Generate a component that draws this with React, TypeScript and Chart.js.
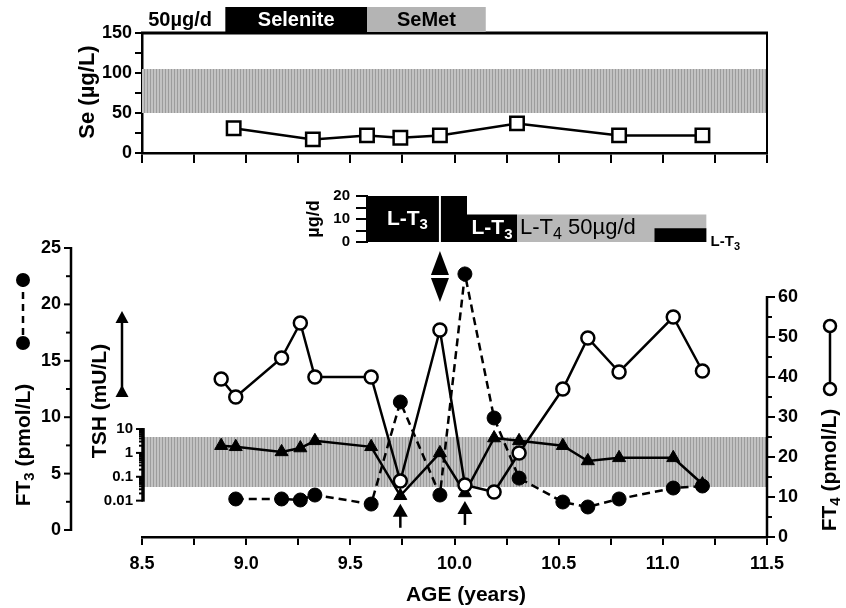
import React, { useEffect, useRef } from 'react';
import { Chart, registerables } from 'chart.js';

Chart.register(...registerables);

const FONT = '"Liberation Sans", Arial, Helvetica, sans-serif';
Chart.defaults.font.family = FONT;
Chart.defaults.color = '#000';

// ---------------- shared age axis ----------------
const ageMin = 8.5;
const ageMax = 11.5;
const ageStep = 0.25;

// ---------------- selenium panel ----------------
const seAges = [8.94, 9.32, 9.58, 9.74, 9.93, 10.3, 10.79, 11.19];
const seValues = [31, 17, 22, 19, 22, 37, 22, 22];
const seNormal = [50, 105];
const seSuppNames = ['Selenite', 'SeMet'];
const seSuppStart = [8.9, 9.58];
const seSuppEnd = [9.58, 10.15];
const seDoseLabel = '50µg/d';
const seDoseLabelAge = 8.53;

// ---------------- thyroid hormone treatment ----------------
const lt3Ages = [9.58, 10.06, 10.3, 10.96, 11.21];
const lt3Doses = [20, 12, 0, 6, 6];
const lt4Ages = [10.3, 11.21];
const lt4Doses = [12, 12];
const lt3StopAge = 9.93;

// ---------------- laboratory values ----------------
const visitAges = [8.88, 8.95, 9.17, 9.26, 9.33, 9.6, 9.74, 9.93, 10.05, 10.19, 10.31, 10.52, 10.64, 10.79, 11.05, 11.19];
const ft4Values = [39.5, 35, 44.75, 53.5, 40, 40, 14, 51.75, 13, 11.25, 21, 37, 49.75, 41.25, 55, 41.5];
const tshValues = [2.0, 1.8, 1.1, 1.6, 3.2, 1.8, 0.016, 1.0, 0.021, 4.2, 3.2, 2.0, 0.46, 0.62, 0.62, 0.05];
const ft3Ages = [8.95, 9.17, 9.26, 9.33, 9.6, 9.74, 9.93, 10.05, 10.19, 10.31, 10.52, 10.64, 10.79, 11.05, 11.19];
const ft3Values = [2.75, 2.75, 2.66, 3.1, 2.3, 11.35, 3.1, 22.7, 9.93, 4.6, 2.48, 2.04, 2.75, 3.72, 3.9];
const ft4Normal = [12.5, 25];
const tshUndetectableAges = [9.74, 10.05];
const tshUndetectableValues = [0.016, 0.021];

const ft3Ticks = [0, 2.5, 5, 7.5, 10, 12.5, 15, 17.5, 20, 22.5, 25];
const ft4Ticks = [0, 5, 10, 15, 20, 25, 30, 35, 40, 45, 50, 55, 60];
const tshMajor = [0.01, 0.1, 1, 10];
const tshMajorLabels = ['0.01', '0.1', '1', '10'];

// ---------------- layout ----------------
const W = 846;
const H = 608;
const PLOT_L = 142;
const PLOT_R = 767;
const SE_TOP = 33;
const SE_BOTTOM = 153;
const DOSE_TOP = 196;
const DOSE_BOTTOM = 242;
const MAIN_TOP = 248;
const MAIN_BOTTOM = 537;
const LW = 2.5;

const mk = (xs: number[], ys: number[]) => xs.map((x, i) => ({ x, y: ys[i] }));
const bold = (s: number) => `bold ${s}px ${FONT}`;

type Seg = { t: string; sub?: boolean };
function rich(ctx: CanvasRenderingContext2D, segs: Seg[], x: number, y: number, size: number, weight: string, color: string, align: 'left' | 'center', rot = 0) {
  ctx.save();
  ctx.translate(x, y);
  if (rot) ctx.rotate(rot);
  const mf = `${weight} ${size}px ${FONT}`;
  const sf = `${weight} ${Math.round(size * 0.72)}px ${FONT}`;
  let total = 0;
  const ws = segs.map((s) => {
    ctx.font = s.sub ? sf : mf;
    const w = ctx.measureText(s.t).width;
    total += w;
    return w;
  });
  let cx = align === 'center' ? -total / 2 : 0;
  ctx.fillStyle = color;
  ctx.textBaseline = 'middle';
  ctx.textAlign = 'left';
  segs.forEach((s, i) => {
    ctx.font = s.sub ? sf : mf;
    ctx.fillText(s.t, cx, s.sub ? size * 0.3 : 0);
    cx += ws[i];
  });
  ctx.restore();
}

function bandFill(ctx: CanvasRenderingContext2D) {
  const c = document.createElement('canvas');
  c.width = 3;
  c.height = 1;
  const g = c.getContext('2d')!;
  g.fillStyle = '#c2c2c2';
  g.fillRect(0, 0, 3, 1);
  g.fillStyle = '#9c9c9c';
  g.fillRect(0, 0, 1, 1);
  return ctx.createPattern(c, 'repeat') || '#b8b8b8';
}

function vAxis(ctx: CanvasRenderingContext2D, scale: any, x: number, values: number[], isMajor: (v: number) => boolean, label: (v: number) => string, side: number, majorLen: number, minorLen: number, lw: number, fs: number) {
  const ys = values.map((v) => scale.getPixelForValue(v));
  ctx.save();
  ctx.strokeStyle = '#000';
  ctx.lineWidth = lw;
  ctx.beginPath();
  ctx.moveTo(x, Math.min(...ys) - 1);
  ctx.lineTo(x, Math.max(...ys) + 1);
  ctx.stroke();
  ctx.lineWidth = 2;
  ctx.font = bold(fs);
  ctx.fillStyle = '#000';
  ctx.textBaseline = 'middle';
  ctx.textAlign = side < 0 ? 'right' : 'left';
  values.forEach((v, i) => {
    const len = isMajor(v) ? majorLen : minorLen;
    ctx.beginPath();
    ctx.moveTo(x, ys[i]);
    ctx.lineTo(x + side * len, ys[i]);
    ctx.stroke();
    const t = label(v);
    if (t) ctx.fillText(t, x + side * (majorLen + 3), ys[i]);
  });
  ctx.restore();
}

const ageTickCb = (v: any) => {
  const n = Number(v);
  return Math.abs(n * 2 - Math.round(n * 2)) < 1e-6 ? n.toFixed(1) : '';
};

function makeSe(canvas: HTMLCanvasElement) {
  const plugin = {
    id: 'sePanel',
    beforeDatasetsDraw(chart: any) {
      const { ctx, chartArea, scales } = chart;
      const y0 = scales.y.getPixelForValue(seNormal[0]);
      const y1 = scales.y.getPixelForValue(seNormal[1]);
      ctx.save();
      ctx.fillStyle = bandFill(ctx);
      ctx.fillRect(chartArea.left, y1, chartArea.right - chartArea.left, y0 - y1);
      ctx.restore();
    },
    afterDraw(chart: any) {
      const { ctx, chartArea, scales } = chart;
      const xs = scales.x;
      ctx.save();
      ctx.strokeStyle = '#000';
      ctx.lineWidth = 3;
      ctx.beginPath();
      ctx.moveTo(chartArea.left - 1, chartArea.top);
      ctx.lineTo(chartArea.right + 1, chartArea.top);
      ctx.stroke();
      ctx.lineWidth = 2;
      ctx.beginPath();
      ctx.moveTo(chartArea.right, chartArea.top);
      ctx.lineTo(chartArea.right, chartArea.bottom);
      ctx.stroke();
      // supplementation header
      const boxTop = 7;
      const boxBottom = chartArea.top - 1;
      seSuppNames.forEach((n, i) => {
        const a = xs.getPixelForValue(seSuppStart[i]);
        const b = xs.getPixelForValue(seSuppEnd[i]);
        ctx.fillStyle = i === 0 ? '#000' : '#b4b4b4';
        ctx.fillRect(a, boxTop, b - a, boxBottom - boxTop);
        rich(ctx, [{ t: n }], (a + b) / 2, (boxTop + boxBottom) / 2 + 1, 20, 'bold', i === 0 ? '#fff' : '#000', 'center');
      });
      rich(ctx, [{ t: seDoseLabel }], xs.getPixelForValue(seDoseLabelAge), (boxTop + boxBottom) / 2 + 1, 20, 'bold', '#000', 'left');
      // axis title
      rich(ctx, [{ t: 'Se (µg/L)' }], 88, 92, 22, 'bold', '#000', 'center', -Math.PI / 2);
      ctx.restore();
    },
  };
  return new Chart(canvas, {
    type: 'line',
    data: {
      datasets: [
        {
          data: mk(seAges, seValues),
          borderColor: '#000',
          borderWidth: LW,
          pointStyle: 'rect',
          pointRadius: 9.5,
          pointBackgroundColor: '#fff',
          pointBorderColor: '#000',
          pointBorderWidth: 2.5,
          clip: false as any,
        },
      ],
    },
    options: {
      animation: false,
      responsive: false,
      events: [],
      layout: { padding: { left: 0, right: W - PLOT_R, top: SE_TOP, bottom: 0 } },
      plugins: { legend: { display: false }, tooltip: { enabled: false } },
      scales: {
        x: {
          type: 'linear',
          min: ageMin,
          max: ageMax,
          ticks: { stepSize: ageStep, autoSkip: false, maxRotation: 0, callback: () => '' },
          grid: { drawOnChartArea: false, drawTicks: true, tickLength: 10, lineWidth: 2, color: '#000' },
          border: { display: true, color: '#000', width: 2.5 },
          afterFit: (s: any) => {
            s.height = H - SE_BOTTOM;
          },
        },
        y: {
          type: 'linear',
          min: 0,
          max: 150,
          ticks: { stepSize: 25, autoSkip: false, padding: 3, font: { size: 18, weight: 'bold' }, color: '#000', callback: (v: any) => (Number(v) % 50 === 0 ? String(v) : '') },
          grid: { drawOnChartArea: false, drawTicks: true, tickLength: 7, lineWidth: 2, color: '#000' },
          border: { display: true, color: '#000', width: 2.5 },
          afterFit: (s: any) => {
            s.width = PLOT_L;
          },
        },
      },
    } as any,
    plugins: [plugin],
  });
}

function makeDose(canvas: HTMLCanvasElement) {
  const pxPerYear = (PLOT_R - PLOT_L) / (ageMax - ageMin);
  const left = PLOT_L + (lt3Ages[0] - ageMin) * pxPerYear;
  const plugin = {
    id: 'dosePanel',
    afterDraw(chart: any) {
      const { ctx, scales } = chart;
      const xs = scales.x;
      const ys = scales.y;
      const c1 = (xs.getPixelForValue(lt3Ages[0]) + xs.getPixelForValue(lt3StopAge)) / 2;
      rich(ctx, [{ t: 'L-T' }, { t: '3', sub: true }], c1 + 4, (ys.getPixelForValue(20) + ys.getPixelForValue(0)) / 2, 21, 'bold', '#fff', 'center');
      const c2 = (xs.getPixelForValue(lt3Ages[1]) + xs.getPixelForValue(lt3Ages[2])) / 2;
      const ym = (ys.getPixelForValue(lt3Doses[1]) + ys.getPixelForValue(0)) / 2;
      rich(ctx, [{ t: 'L-T' }, { t: '3', sub: true }], c2, ym, 21, 'bold', '#fff', 'center');
      rich(ctx, [{ t: 'L-T' }, { t: '4', sub: true }, { t: ' 50µg/d' }], xs.getPixelForValue(lt4Ages[0]) + 3, ym, 22, 'normal', '#000', 'left');
      rich(ctx, [{ t: 'L-T' }, { t: '3', sub: true }], xs.getPixelForValue(lt3Ages[lt3Ages.length - 1]) + 4, ys.getPixelForValue(0), 15, 'bold', '#000', 'left');
      rich(ctx, [{ t: 'µg/d' }], 314, (ys.getPixelForValue(20) + ys.getPixelForValue(0)) / 2, 18, 'bold', '#000', 'center', -Math.PI / 2);
    },
  };
  return new Chart(canvas, {
    type: 'line',
    data: {
      datasets: [
        {
          data: mk([lt3StopAge, lt3StopAge], [0, 20]),
          borderColor: '#fff',
          borderWidth: 2,
          pointRadius: 0,
          order: 0,
        },
        {
          data: mk(lt3Ages, lt3Doses),
          stepped: true,
          fill: 'origin',
          backgroundColor: '#000',
          borderColor: '#000',
          borderWidth: 0,
          pointRadius: 0,
          order: 1,
        },
        {
          data: mk(lt4Ages, lt4Doses),
          fill: 'origin',
          backgroundColor: '#b8b8b8',
          borderColor: '#b8b8b8',
          borderWidth: 0,
          pointRadius: 0,
          order: 2,
        },
      ],
    },
    options: {
      animation: false,
      responsive: false,
      events: [],
      layout: { padding: { left: 0, right: W - PLOT_R, top: DOSE_TOP, bottom: H - DOSE_BOTTOM } },
      plugins: { legend: { display: false }, tooltip: { enabled: false } },
      scales: {
        x: { type: 'linear', display: false, min: lt3Ages[0], max: ageMax },
        y: {
          type: 'linear',
          min: 0,
          max: 20,
          ticks: { stepSize: 5, autoSkip: false, padding: 6, font: { size: 15, weight: 'bold' }, color: '#000', callback: (v: any) => (Number(v) % 10 === 0 ? String(v) : '') },
          grid: { drawOnChartArea: false, drawTicks: true, tickLength: 11, lineWidth: 2, color: '#000' },
          border: { display: true, color: '#000', width: 2 },
          afterFit: (s: any) => {
            s.width = left;
          },
        },
      },
    } as any,
    plugins: [plugin],
  });
}

function makeMain(canvas: HTMLCanvasElement) {
  const ft3Px = (530 - MAIN_TOP) / 25;
  const ft3Min = -(MAIN_BOTTOM - 530) / ft3Px;
  const ft4Px = (MAIN_BOTTOM - 297) / 60;
  const ft4Max = (MAIN_BOTTOM - MAIN_TOP) / ft4Px;
  const tshDec = (502 - 430) / 3;
  const tshMax = Math.pow(10, 1 + (430 - MAIN_TOP) / tshDec);
  const tshMin = Math.pow(10, 1 - (MAIN_BOTTOM - 430) / tshDec);
  const tshTicks: number[] = [];
  [0.01, 0.1, 1].forEach((d) => {
    for (let k = 1; k < 10; k++) tshTicks.push(+(d * k).toPrecision(3));
  });
  tshTicks.push(10);

  const plugin = {
    id: 'mainPanel',
    beforeDatasetsDraw(chart: any) {
      const { ctx, chartArea, scales } = chart;
      const y0 = scales.yFT4.getPixelForValue(ft4Normal[0]);
      const y1 = scales.yFT4.getPixelForValue(ft4Normal[1]);
      ctx.save();
      ctx.fillStyle = bandFill(ctx);
      ctx.fillRect(chartArea.left, y1, chartArea.right - chartArea.left, y0 - y1);
      ctx.restore();
    },
    afterDraw(chart: any) {
      const { ctx, chartArea, scales } = chart;
      const xs = scales.x;
      // axes
      vAxis(ctx, scales.yFT3, 71, ft3Ticks, (v) => v % 5 === 0, (v) => (v % 5 === 0 ? String(v) : ''), -1, 7, 5, 2.5, 18);
      vAxis(ctx, scales.yTSH, chartArea.left + 1, tshTicks, (v) => tshMajor.includes(v), (v) => {
        const i = tshMajor.indexOf(v);
        return i >= 0 ? tshMajorLabels[i] : '';
      }, -1, 7, 4, 3.5, 15);
      vAxis(ctx, scales.yFT4, chartArea.right, ft4Ticks, (v) => v % 10 === 0, (v) => (v % 10 === 0 ? String(v) : ''), 1, 8, 5, 2.5, 18);

      ctx.save();
      ctx.fillStyle = '#000';
      ctx.strokeStyle = '#000';
      // undetectable TSH arrows
      tshUndetectableAges.forEach((a, i) => {
        const x = xs.getPixelForValue(a);
        const tip = scales.yTSH.getPixelForValue(tshUndetectableValues[i]) + 8;
        ctx.beginPath();
        ctx.moveTo(x, tip);
        ctx.lineTo(x - 7.5, tip + 13);
        ctx.lineTo(x + 7.5, tip + 13);
        ctx.closePath();
        ctx.fill();
        ctx.lineWidth = 2.5;
        ctx.beginPath();
        ctx.moveTo(x, tip + 12);
        ctx.lineTo(x, tip + 24);
        ctx.stroke();
      });
      // double arrow at L-T3 switch
      {
        const x = xs.getPixelForValue(lt3StopAge);
        const t = chartArea.top + 3;
        ctx.beginPath();
        ctx.moveTo(x, t);
        ctx.lineTo(x - 9, t + 24);
        ctx.lineTo(x + 9, t + 24);
        ctx.closePath();
        ctx.fill();
        ctx.beginPath();
        ctx.moveTo(x - 9, t + 27);
        ctx.lineTo(x + 9, t + 27);
        ctx.lineTo(x, t + 51);
        ctx.closePath();
        ctx.fill();
      }
      // legends
      const dot = (x: number, y: number) => {
        ctx.beginPath();
        ctx.arc(x, y, 7, 0, Math.PI * 2);
        ctx.fill();
      };
      const ring = (x: number, y: number) => {
        ctx.beginPath();
        ctx.arc(x, y, 6, 0, Math.PI * 2);
        ctx.fillStyle = '#fff';
        ctx.fill();
        ctx.lineWidth = 2.5;
        ctx.stroke();
        ctx.fillStyle = '#000';
      };
      const tri = (x: number, y: number) => {
        ctx.beginPath();
        ctx.moveTo(x, y - 7);
        ctx.lineTo(x - 6.5, y + 5);
        ctx.lineTo(x + 6.5, y + 5);
        ctx.closePath();
        ctx.fill();
      };
      ctx.lineWidth = LW;
      ctx.setLineDash([7, 5]);
      ctx.beginPath();
      ctx.moveTo(23, 280);
      ctx.lineTo(23, 343);
      ctx.stroke();
      ctx.setLineDash([]);
      dot(23, 280);
      dot(23, 343);
      ctx.beginPath();
      ctx.moveTo(122, 318);
      ctx.lineTo(122, 392);
      ctx.stroke();
      tri(122, 318);
      tri(122, 392);
      ctx.beginPath();
      ctx.moveTo(830, 326);
      ctx.lineTo(830, 389);
      ctx.stroke();
      ring(830, 326);
      ring(830, 389);
      ctx.restore();
      // titles
      rich(ctx, [{ t: 'FT' }, { t: '3', sub: true }, { t: ' (pmol/L)' }], 24, 445, 21, 'bold', '#000', 'center', -Math.PI / 2);
      rich(ctx, [{ t: 'TSH (mU/L)' }], 100, 401, 21, 'bold', '#000', 'center', -Math.PI / 2);
      rich(ctx, [{ t: 'FT' }, { t: '4', sub: true }, { t: ' (pmol/L)' }], 830, 470, 21, 'bold', '#000', 'center', -Math.PI / 2);
      rich(ctx, [{ t: 'AGE (years)' }], 466, 595, 21, 'bold', '#000', 'center');
    },
  };

  return new Chart(canvas, {
    type: 'line',
    data: {
      datasets: [
        {
          label: 'FT4',
          data: mk(visitAges, ft4Values),
          yAxisID: 'yFT4',
          borderColor: '#000',
          borderWidth: LW,
          pointStyle: 'circle',
          pointRadius: 6.5,
          pointBackgroundColor: '#fff',
          pointBorderColor: '#000',
          pointBorderWidth: 2.5,
          order: 0,
          clip: false as any,
        },
        {
          label: 'TSH',
          data: mk(visitAges, tshValues),
          yAxisID: 'yTSH',
          borderColor: '#000',
          borderWidth: LW,
          pointStyle: 'triangle',
          pointRadius: 7.5,
          pointBackgroundColor: '#000',
          pointBorderColor: '#000',
          pointBorderWidth: 1,
          order: 1,
          clip: false as any,
        },
        {
          label: 'FT3',
          data: mk(ft3Ages, ft3Values),
          yAxisID: 'yFT3',
          borderColor: '#000',
          borderWidth: LW,
          borderDash: [8, 5],
          pointStyle: 'circle',
          pointRadius: 7,
          pointBackgroundColor: '#000',
          pointBorderColor: '#000',
          pointBorderWidth: 1,
          order: 2,
          clip: false as any,
        },
      ],
    },
    options: {
      animation: false,
      responsive: false,
      events: [],
      layout: { padding: { left: PLOT_L, right: W - PLOT_R, top: MAIN_TOP, bottom: 0 } },
      plugins: { legend: { display: false }, tooltip: { enabled: false } },
      scales: {
        x: {
          type: 'linear',
          min: ageMin,
          max: ageMax,
          ticks: { stepSize: ageStep, autoSkip: false, maxRotation: 0, padding: 8, font: { size: 18, weight: 'bold' }, color: '#000', callback: ageTickCb },
          grid: { drawOnChartArea: false, drawTicks: true, tickLength: 8, lineWidth: 2, color: '#000' },
          border: { display: true, color: '#000', width: 2.5 },
          afterFit: (s: any) => {
            s.height = H - MAIN_BOTTOM;
          },
        },
        yFT3: { type: 'linear', display: false, min: ft3Min, max: 25 },
        yFT4: { type: 'linear', display: false, min: 0, max: ft4Max },
        yTSH: { type: 'logarithmic', display: false, min: tshMin, max: tshMax },
      },
    } as any,
    plugins: [plugin],
  });
}

export default function App() {
  const seRef = useRef<HTMLCanvasElement>(null);
  const doseRef = useRef<HTMLCanvasElement>(null);
  const mainRef = useRef<HTMLCanvasElement>(null);
  useEffect(() => {
    const charts = [makeSe(seRef.current!), makeDose(doseRef.current!), makeMain(mainRef.current!)];
    return () => charts.forEach((c) => c.destroy());
  }, []);
  const st: React.CSSProperties = { position: 'absolute', left: 0, top: 0 };
  return (
    <div style={{ position: 'absolute', left: 0, top: 0, width: W, height: H, background: '#fff' }}>
      <canvas ref={seRef} width={W} height={H} style={st} />
      <canvas ref={doseRef} width={W} height={H} style={st} />
      <canvas ref={mainRef} width={W} height={H} style={st} />
    </div>
  );
}
